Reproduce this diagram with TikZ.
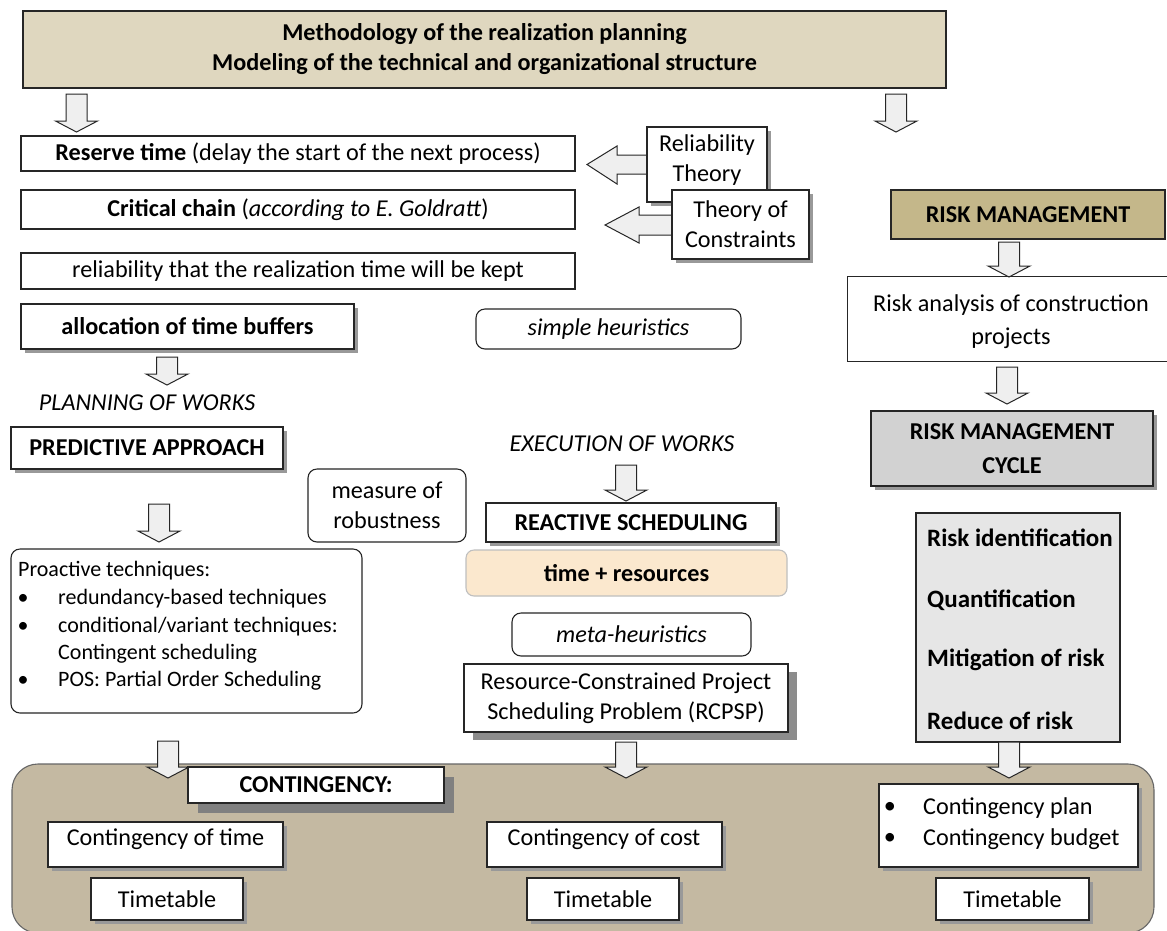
\documentclass[tikz,border=0pt]{standalone}
\usepackage{fontspec}
\setmainfont{Carlito}
\usetikzlibrary{shadows}
\definecolor{titlefill}{HTML}{DFD7BF}
\definecolor{riskfill}{HTML}{C4B78A}
\definecolor{cyclefill}{HTML}{D2D2D2}
\definecolor{listfill}{HTML}{E6E6E6}
\definecolor{bottomfill}{HTML}{C4B9A2}
\definecolor{peach}{HTML}{FBE8CE}
\definecolor{arrowfill}{HTML}{EFEFEF}
\newcommand\bx[7]{\node[#2,minimum width={#5-#3},minimum height={#6-#4}] (#1) at ({(#3+#5)/2},{(#4+#6)/2}) {#7};}
\newcommand\dar[3]{\draw[barrow] ({#1-10.5},#2) -- ({#1+10.5},#2) -- ({#1+10.5},{#3-11}) -- ({#1+21},{#3-11}) -- (#1,#3) -- ({#1-21},{#3-11}) -- ({#1-10.5},{#3-11}) -- cycle;}
\newcommand\fsz{\fontsize{24.2}{30}\selectfont}
\begin{document}
\begin{tikzpicture}[x=1pt,y=-1pt,
  every node/.style={font=\fsz,inner sep=0pt},
  box/.style={draw=black!85,line width=1.1pt,fill=white,align=center},
  rbox/.style={box,rounded corners=9pt},
  sh/.style={drop shadow={shadow xshift=4pt,shadow yshift=-4pt,fill=black!40,opacity=1}},
  bigsh/.style={drop shadow={shadow xshift=10pt,shadow yshift=-10pt,fill=black!50,opacity=1}},
  barrow/.style={draw=black!85,line width=1pt,fill=arrowfill,line join=miter},
  txt/.style={align=center},
  bb/.style={font=\fsz\bfseries},
  pt/.style={font=\fontsize{22}{26}\selectfont}
]
\useasboundingbox (0,0) rectangle (1167,930);
\fill[white] (0,0) rectangle (1167,930);

% bottom contingency panel
\bx{panel}{draw=black!60,line width=1.1pt,fill=bottomfill,rounded corners=26pt}{12}{764}{1154}{933}{}

% title
\bx{title}{box,fill=titlefill,bb}{23}{11}{946}{88}{Methodology of the realization planning\\Modeling of the technical and organizational structure}

% down arrows (top)
\dar{76.5}{94}{132}
\dar{896}{94}{132}

% left stack
\bx{reserve}{box}{21}{136}{575}{171}{\textbf{Reserve time} (delay the start of the next process)}
\bx{critical}{box}{21}{190}{575}{229}{\textbf{Critical chain} (\textit{according to E. Goldratt})}
\bx{reliab}{box}{21}{253}{575}{289}{reliability that the realization time will be kept}
\bx{alloc}{box,sh,bb}{21}{304}{354}{349}{allocation of time buffers}
\bx{simple}{rbox}{476}{309}{741}{349}{\textit{simple heuristics}}

% theory arrows
\draw[barrow] (652,155) -- (617,155) -- (617,146) -- (587,164.5) -- (617,184) -- (617,174) -- (652,174);
\bx{relth}{box,sh}{647}{127}{767}{202}{}
\node[txt] (relthtxt) at (707,160) {Reliability\\Theory};
\draw[barrow] (677,215) -- (639,215) -- (639,207) -- (605,225) -- (639,243) -- (639,235) -- (677,235);
\bx{toc}{box,sh}{672}{190}{809}{259}{Theory of\\Constraints}

% risk column
\bx{riskm}{box,fill=riskfill,bb}{891}{190}{1165}{239}{RISK MANAGEMENT}
\dar{1009}{242}{277}
\node[minimum width=322,minimum height=84] (riskan) at (1009,319) {};
\draw[draw=black!85,line width=1.1pt] (riskan.north east) -- (riskan.north west) -- (riskan.south west) -- (riskan.south east);
\node[txt] (riskantxt) at (1011,322) {Risk analysis of construction\\[3pt]projects};
\dar{1007}{367}{404}
\bx{cycle}{box,fill=cyclefill,sh,bb}{871}{411}{1153}{486}{RISK MANAGEMENT\\[4pt]CYCLE}
\bx{rlist}{box,fill=listfill}{916}{513}{1120}{742}{}
\node[anchor=west,font=\fontsize{25}{30}\selectfont\bfseries] (r1) at (927,538) {Risk identification};
\node[anchor=west,font=\fontsize{25}{30}\selectfont\bfseries] (r2) at (927,600) {Quantification};
\node[anchor=west,font=\fontsize{25}{30}\selectfont\bfseries] (r3) at (927,660) {Mitigation of risk};
\node[anchor=west,font=\fontsize{25}{30}\selectfont\bfseries] (r4) at (927,721) {Reduce of risk};
\dar{1009}{742}{778}

% planning column
\dar{167}{357}{385}
\node (plan) at (147,403) {\textit{PLANNING OF WORKS}};
\bx{pred}{box,sh,bb}{11}{427}{283}{469}{PREDICTIVE APPROACH}
\dar{159}{504}{542}
\bx{measure}{rbox}{308}{469}{466}{542}{measure of\\robustness}
\bx{proact}{rbox}{11}{549}{362}{713}{}
\node[anchor=west,pt] (p0) at (18,571) {Proactive techniques:};
\node[pt] (b1) at (23,599) {•};
\node[anchor=west,pt] (p1) at (58,599) {redundancy-based techniques};
\node[pt] (b2) at (23,627) {•};
\node[anchor=west,pt] (p2) at (58,627) {conditional/variant techniques:};
\node[anchor=west,pt] (p3) at (58,654) {Contingent scheduling};
\node[pt] (b3) at (23,681) {•};
\node[anchor=west,pt] (p4) at (58,681) {POS: Partial Order Scheduling};
\dar{168}{741}{778}

% execution column
\node (exec) at (622,444) {\textit{EXECUTION OF WORKS}};
\dar{626}{465}{501}
\bx{react}{box,sh,bb}{486}{503}{776}{542}{REACTIVE SCHEDULING}
\bx{timeres}{draw=black!25,line width=1.1pt,fill=peach,rounded corners=8pt,bb}{466}{550}{787}{596}{time + resources}
\bx{meta}{rbox}{512}{613}{751}{656}{\textit{meta-heuristics}}
\bx{rcpsp}{box,drop shadow={shadow xshift=9pt,shadow yshift=-8pt,fill=black!45,opacity=1}}{464}{664}{788}{732}{Resource-Constrained Project\\Scheduling Problem (RCPSP)}
\dar{626}{742}{778}

% contingency panel contents
\bx{cont}{box,bigsh,bb}{188}{767}{444}{803}{CONTINGENCY:}
\bx{ctime}{box,sh}{48}{822}{283}{867}{}
\node (ctimetxt) at (165.5,839) {Contingency of time};
\bx{tt1}{box,sh}{91}{878}{243}{920}{Timetable}
\bx{ccost}{box,sh}{487}{822}{722}{867}{}
\node (ccosttxt) at (604,839) {Contingency of cost};
\bx{tt2}{box,sh}{527}{878}{679}{920}{Timetable}
\bx{cplan}{box,sh}{879}{784}{1138}{867}{}
\node (cb1) at (890,808) {•};
\node[anchor=west] (cp1) at (923,808) {Contingency plan};
\node (cb2) at (890,839) {•};
\node[anchor=west] (cp2) at (923,839) {Contingency budget};
\bx{tt3}{box,sh}{936}{878}{1089}{920}{Timetable}
\end{tikzpicture}
\end{document}
